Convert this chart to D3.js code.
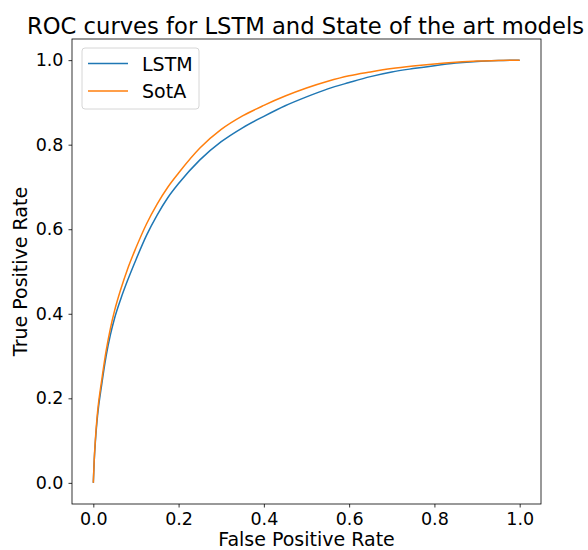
<!DOCTYPE html>
<html>
<head>
<meta charset="utf-8">
<script src="https://cdn.jsdelivr.net/npm/d3@7"></script>
<style>
  body { margin: 0; background: #fff; }
  text { font-family: "DejaVu Sans", sans-serif; fill: #000; }
</style>
</head>
<body>
<div id="chart"></div>
<script>
const w = 588;
const h = 550;
const margin = {left: 72, right: 47, top: 39, bottom: 46};
const xTicks = [0, 0.2, 0.4, 0.6, 0.8, 1.0];
const yTicks = [0, 0.2, 0.4, 0.6, 0.8, 1.0];
const seriesNames = ['LSTM', 'SotA'];
const colors = ['#1f77b4', '#ff7f0e'];

// false positive rate / true positive rate
const fpr = [0, 0.002, 0.005, 0.01, 0.02, 0.03, 0.04, 0.05, 0.065, 0.08, 0.1, 0.125, 0.15, 0.175, 0.2,
             0.25, 0.3, 0.35, 0.4, 0.45, 0.5, 0.55, 0.6, 0.65, 0.7, 0.75, 0.8, 0.85, 0.9, 0.95, 1];
const lstmTpr = [0, 0.05, 0.10, 0.16, 0.235, 0.30, 0.35, 0.39, 0.437, 0.478, 0.528, 0.586, 0.634, 0.675, 0.708,
                 0.764, 0.807, 0.84, 0.867, 0.892, 0.913, 0.932, 0.947, 0.961, 0.972, 0.98, 0.987, 0.993, 0.997, 0.999, 1];
const sotaTpr = [0, 0.052, 0.105, 0.168, 0.245, 0.312, 0.365, 0.408, 0.46, 0.505, 0.556, 0.613, 0.66, 0.70, 0.733,
                 0.792, 0.836, 0.868, 0.893, 0.915, 0.934, 0.95, 0.963, 0.972, 0.98, 0.986, 0.991, 0.995, 0.998, 0.999, 1];

const svg = d3.select('#chart')
  .append('svg')
  .attr('width', w)
  .attr('height', h);

const x = d3.scaleLinear().domain([-0.05, 1.05]).range([margin.left, w - margin.right]);
const y = d3.scaleLinear().domain([-0.05, 1.05]).range([h - margin.bottom, margin.top]);

const series = [
  d3.zip(fpr, lstmTpr),
  d3.zip(fpr, sotaTpr)
];

const line = d3.line()
  .x(d => x(d[0]))
  .y(d => y(d[1]))
  .curve(d3.curveMonotoneX);

series.forEach((s, i) => {
  svg.append('path')
    .datum(s)
    .attr('d', line)
    .attr('fill', 'none')
    .attr('stroke', colors[i])
    .attr('stroke-width', 1.5);
});

// axes
const xAxis = svg.append('g')
  .attr('transform', `translate(0, ${h - margin.bottom})`)
  .call(d3.axisBottom(x).tickValues(xTicks).tickFormat(d3.format('.1f')).tickSizeOuter(0).tickSize(3.5).tickPadding(5));
const yAxis = svg.append('g')
  .attr('transform', `translate(${margin.left}, 0)`)
  .call(d3.axisLeft(y).tickValues(yTicks).tickFormat(d3.format('.1f')).tickSizeOuter(0).tickSize(3.5).tickPadding(5));

[xAxis, yAxis].forEach(a => {
  a.select('.domain').remove();
  a.selectAll('line').attr('stroke', '#000').attr('stroke-width', 0.8);
  a.selectAll('text').style('font-size', '17.5px').attr('font-family', 'DejaVu Sans');
});

// frame
svg.append('rect')
  .attr('x', margin.left)
  .attr('y', margin.top)
  .attr('width', w - margin.left - margin.right)
  .attr('height', h - margin.top - margin.bottom)
  .attr('fill', 'none')
  .attr('stroke', '#000')
  .attr('stroke-width', 0.8);

// title and labels
svg.append('text')
  .attr('x', 27)
  .attr('y', 34)
  .attr('textLength', 557)
  .attr('lengthAdjust', 'spacingAndGlyphs')
  .style('font-size', '22.5px')
  .text('ROC curves for LSTM and State of the art models');

svg.append('text')
  .attr('x', (margin.left + w - margin.right) / 2)
  .attr('y', 546)
  .attr('text-anchor', 'middle')
  .style('font-size', '19px')
  .text('False Positive Rate');

svg.append('text')
  .attr('transform', `translate(27, ${(margin.top + h - margin.bottom) / 2}) rotate(-90)`)
  .attr('text-anchor', 'middle')
  .style('font-size', '19px')
  .text('True Positive Rate');

// legend
const legend = svg.append('g').attr('transform', 'translate(82, 48)');
legend.append('rect')
  .attr('width', 117)
  .attr('height', 61)
  .attr('rx', 3)
  .attr('fill', '#fff')
  .attr('fill-opacity', 0.8)
  .attr('stroke', '#ccc')
  .attr('stroke-width', 0.8);

seriesNames.forEach((name, i) => {
  const ly = 15.5 + i * 27.5;
  legend.append('line')
    .attr('x1', 6).attr('x2', 46)
    .attr('y1', ly).attr('y2', ly)
    .attr('stroke', colors[i])
    .attr('stroke-width', 1.5);
  legend.append('text')
    .attr('x', 60)
    .attr('y', ly + 7)
    .style('font-size', '19px')
    .text(name);
});
</script>
</body>
</html>
